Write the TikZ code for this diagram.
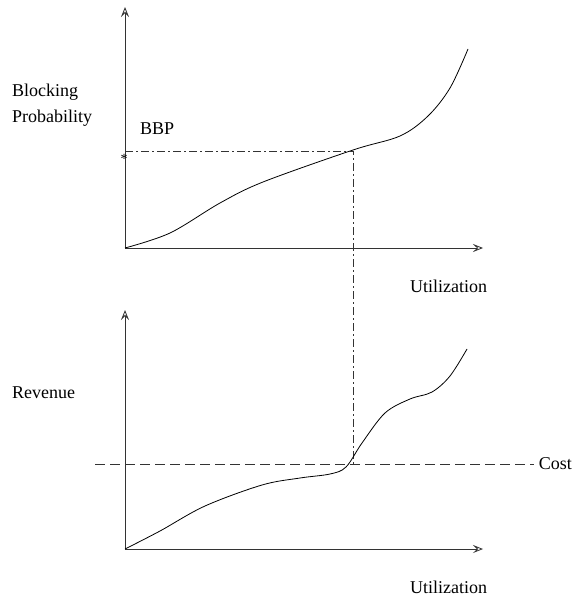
\documentclass[tikz,border=0pt]{standalone}
\usepackage{fontspec}
\setmainfont{Liberation Serif}
\usetikzlibrary{arrows.meta}
\begin{document}
\begin{tikzpicture}[x=1pt,y=-1pt,
  axis/.style={line width=0.8pt, black!80, -{Stealth[open,length=10pt,width=8pt,inset=4pt,line width=0.8pt]}},
  curve/.style={line width=0.8pt, black, smooth, tension=0.55},
  dashdot/.style={line width=0.8pt, black!80, dash pattern=on 8pt off 3pt on 2pt off 3pt},
  costline/.style={line width=0.8pt, black!80, dash pattern=on 10pt off 5pt},
  lbl/.style={font=\fontsize{18}{22}\selectfont, inner sep=0pt}]
\useasboundingbox (0,0) rectangle (574,599);
% top graph
\coordinate (o1) at (125,248);
\coordinate (y1) at (125,7);
\coordinate (x1) at (483,248);
\draw[axis] (o1) -- (y1);
\draw[axis] (o1) -- (x1);
\draw[curve] plot coordinates {(125,248) (170,233) (220,203) (263,182) (353,150) (400,136) (428,116) (450,88) (468,49)};
\coordinate (bbpy) at (125,151);
\coordinate (p) at (353,151);
\coordinate (q) at (353,464);
\draw[dashdot] (bbpy) -- (p) -- (q);
\node[font=\fontsize{14}{14}\selectfont, inner sep=0pt] (star) at (124,159) {*};
\node[lbl, anchor=base west] (bbp) at (140,135) {BBP};
\node[lbl, anchor=base west] (blk) at (12,97) {Blocking};
\node[lbl, anchor=base west] (prob) at (12,122) {Probability};
\node[lbl, anchor=base west] (ut1) at (410,292) {Utilization};
% bottom graph
\coordinate (o2) at (125,549);
\coordinate (y2) at (125,310);
\coordinate (x2) at (483,549);
\draw[axis] (o2) -- (y2);
\draw[axis] (o2) -- (x2);
\draw[curve] plot coordinates {(125,549) (160,531) (205,506) (262,485) (300,478) (330,474) (346,467) (362,443) (385,413) (410,399) (432,392) (450,376) (467,349)};
\coordinate (c1) at (95,464);
\coordinate (c2) at (534,464);
\draw[costline] (c1) -- (c2);
\node[lbl, anchor=east] (cost) at (572,464) {Cost};
\node[lbl, anchor=base west] (rev) at (12,398) {Revenue};
\node[lbl, anchor=base west] (ut2) at (410,593) {Utilization};
\end{tikzpicture}
\end{document}
